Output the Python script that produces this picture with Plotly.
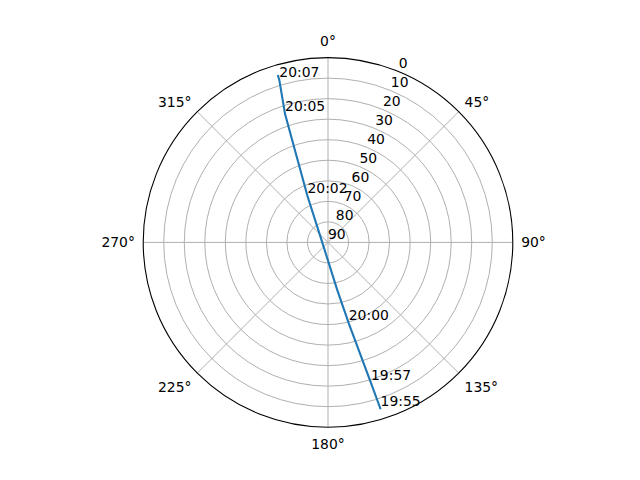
import plotly.graph_objects as go

# Satellite pass track (azimuth deg clockwise from north, elevation deg)
track_az = [162.5, 163.0, 165.6, 169.0, 270.0, 336.1, 341.5, 343.3, 343.3]
track_el = [4.8, 18.3, 49.3, 66.3, 87.2, 65.3, 24.1, 7.5, 4.9]

# Time labels along the track
label_times = ["19:55", "19:57", "20:00", "20:02", "20:05", "20:07"]
label_az = [162.5, 163.0, 165.6, 336.1, 341.5, 343.3]
label_el = [4.8, 18.3, 49.3, 65.3, 24.1, 7.5]

angle_ticks = [0, 45, 90, 135, 180, 225, 270, 315]
angle_labels = [f"{a}°" for a in angle_ticks]
radial_ticks = [0, 10, 20, 30, 40, 50, 60, 70, 80, 90]
radial_labels = [str(v) for v in radial_ticks]
RLABEL_ANGLE = 22.5  # matplotlib default radial label position

FONT = "DejaVu Sans"
FS = 13.9
W, H = 640, 480
OFF = 8  # page body margin compensation (px)

fig = go.Figure()
fig.add_trace(go.Scatterpolar(
    r=track_el, theta=track_az, mode="lines",
    line=dict(color="#1f77b4", width=2.1), showlegend=False, hoverinfo="skip"))
fig.add_trace(go.Scatterpolar(
    r=label_el, theta=label_az, mode="text", text=label_times,
    textposition="top right", textfont=dict(family=FONT, size=FS, color="black"),
    cliponaxis=False, showlegend=False, hoverinfo="skip"))
fig.add_trace(go.Scatterpolar(
    r=radial_ticks, theta=[RLABEL_ANGLE] * len(radial_ticks), mode="text",
    text=radial_labels, textposition="top right",
    textfont=dict(family=FONT, size=FS, color="black"),
    cliponaxis=False, showlegend=False, hoverinfo="skip"))

fig.update_layout(
    width=W, height=H,
    margin=dict(l=0, r=0, t=0, b=0),
    paper_bgcolor="white",
    font=dict(family=FONT, size=FS, color="black"),
    polar=dict(
        domain=dict(x=[(80 - OFF) / W, (576 - OFF) / W],
                    y=[1 - (427.2 - OFF) / H, 1 - (57.6 - OFF) / H]),
        bgcolor="white",
        angularaxis=dict(
            rotation=90, direction="clockwise",
            tickmode="array", tickvals=angle_ticks, ticktext=angle_labels,
            showline=True, linecolor="black", linewidth=1.1,
            showgrid=True, gridcolor="#b0b0b0", gridwidth=1.1,
            ticks="outside", ticklen=5, tickcolor="rgba(0,0,0,0)",
            tickfont=dict(family=FONT, size=FS, color="black"),
        ),
        radialaxis=dict(
            range=[90, 0], tickmode="array", tickvals=radial_ticks,
            showline=False, ticks="", showticklabels=False,
            showgrid=True, gridcolor="#b0b0b0", gridwidth=1.1,
        ),
    ),
)
fig.write_html("out.html")
